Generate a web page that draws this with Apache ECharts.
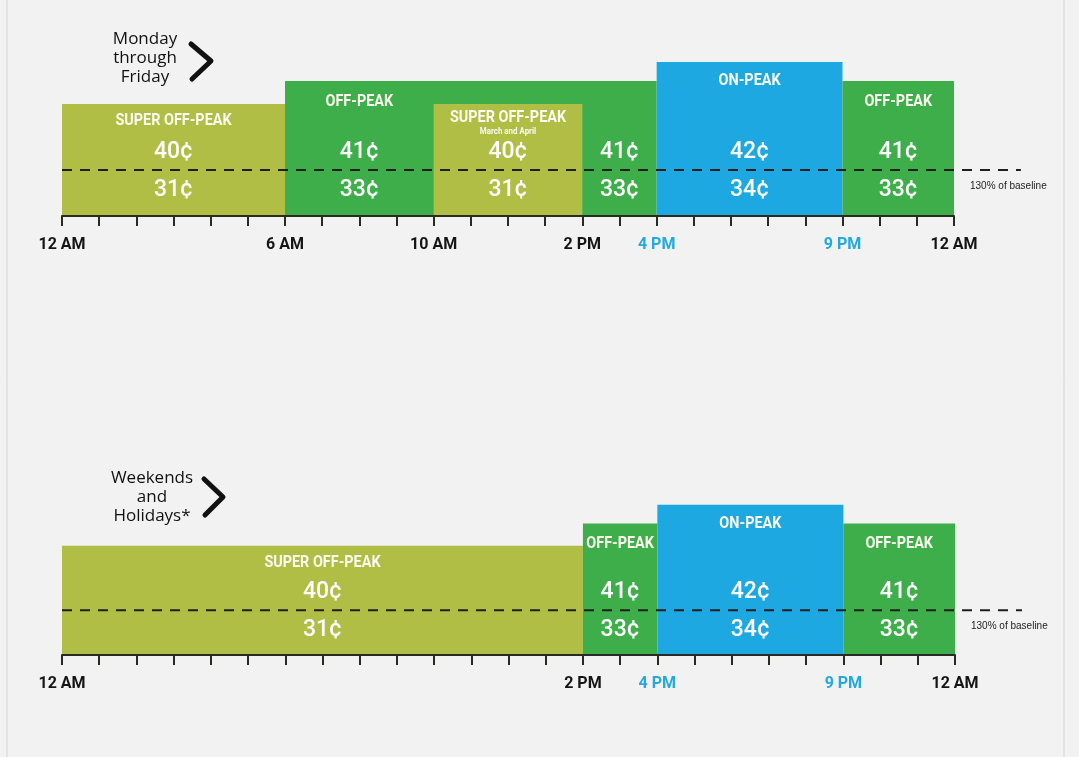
<!DOCTYPE html>
<html><head><meta charset="utf-8">
<script src="https://cdn.jsdelivr.net/npm/echarts@6/dist/echarts.min.js"></script>
<style>html,body{margin:0;padding:0;background:#f2f2f2}#c{width:1079px;height:757px}</style>
</head><body><div id="c"></div><script>
// ---- data ----
const levelNames = ['super', 'off', 'on'];
const levelHeights = [112, 135, 154];   // relative bar heights (arbitrary units)
const baselineLevel = 46;               // "130% of baseline" marker level
const baselineNote = '130% of baseline';

// Monday through Friday
const wdBarStart = [0, 6, 10, 16, 21];
const wdBarEnd = [6, 16, 14, 21, 24];
const wdBarLevel = ['super', 'off', 'super', 'on', 'off'];
const wdLabelHour = [3, 8, 12, 15, 18.5, 22.5];
const wdLabelLevel = ['super', 'off', 'super', 'off', 'on', 'off'];
const wdTitles = ['SUPER OFF-PEAK', 'OFF-PEAK', 'SUPER OFF-PEAK', '', 'ON-PEAK', 'OFF-PEAK'];
const wdNotes = ['', '', 'March and April', '', '', ''];
const wdUpper = ['40¢', '41¢', '40¢', '41¢', '42¢', '41¢'];
const wdLower = ['31¢', '33¢', '31¢', '33¢', '34¢', '33¢'];
const wdTickHours = [0, 6, 10, 14, 16, 21, 24];
const wdTickLabels = ['12 AM', '6 AM', '10 AM', '2 PM', '4 PM', '9 PM', '12 AM'];

// Weekends and Holidays
const weBarStart = [0, 14, 16, 21];
const weBarEnd = [14, 16, 21, 24];
const weBarLevel = ['super', 'off', 'on', 'off'];
const weLabelHour = [7, 15, 18.5, 22.5];
const weLabelLevel = ['super', 'off', 'on', 'off'];
const weTitles = ['SUPER OFF-PEAK', 'OFF-PEAK', 'ON-PEAK', 'OFF-PEAK'];
const weNotes = ['', '', '', ''];
const weUpper = ['40¢', '41¢', '42¢', '41¢'];
const weLower = ['31¢', '33¢', '34¢', '33¢'];
const weTickHours = [0, 14, 16, 21, 24];
const weTickLabels = ['12 AM', '2 PM', '4 PM', '9 PM', '12 AM'];

const peakHours = [16, 21];
const panelTitles = ['Monday\nthrough\nFriday', 'Weekends\nand\nHolidays*'];

// ---- styles ----
const levelColors = ['#b0be46', '#3eae4a', '#1ea8e2'];
const titleOffset = [17, 21, 19];
const boldFont = 'Roboto,sans-serif';
const BLUE = '#22a9e0';

function lvl(name) { return levelNames.indexOf(name); }

function xAxisFor(gi, hours, labels) {
  return {
    type: 'value', gridIndex: gi, min: 0, max: 24, interval: 1, z: 5,
    axisLine: { show: true, lineStyle: { color: '#2a2a22', width: 2 } },
    axisTick: { show: true, length: 10, lineStyle: { color: '#2a2a22', width: 2 } },
    splitLine: { show: false },
    axisLabel: {
      margin: 21, showMinLabel: true, showMaxLabel: true,
      formatter: function (v) {
        const i = hours.indexOf(v);
        if (i < 0) return '';
        return peakHours.indexOf(v) >= 0 ? '{p|' + labels[i] + '}' : '{n|' + labels[i] + '}';
      },
      rich: {
        n: { color: '#151515', fontFamily: boldFont, fontWeight: 'bold', fontSize: 16 },
        p: { color: BLUE, fontFamily: boldFont, fontWeight: 'bold', fontSize: 16 }
      }
    }
  };
}

function yAxisFor(gi) {
  return { type: 'value', gridIndex: gi, min: 0, max: 160, show: false };
}

function barSeries(gi, starts, ends, levels) {
  return {
    type: 'custom', xAxisIndex: gi, yAxisIndex: gi, clip: false, silent: true,
    data: starts.map((s, i) => [s, ends[i], levelHeights[lvl(levels[i])], lvl(levels[i])]),
    encode: { x: [0, 1], y: 2 },
    renderItem: function (p, api) {
      const a = api.coord([api.value(0), 0]);
      const b = api.coord([api.value(1), api.value(2)]);
      return { type: 'rect', shape: { x: a[0], y: b[1], width: b[0] - a[0], height: a[1] - b[1] },
               style: { fill: levelColors[api.value(3)] } };
    }
  };
}

function baselineSeries(gi) {
  return {
    type: 'custom', xAxisIndex: gi, yAxisIndex: gi, clip: false, silent: true, z: 3,
    data: [[0, 25.8, baselineLevel]],
    encode: { x: [0, 1], y: 2 },
    renderItem: function (p, api) {
      const a = api.coord([api.value(0), api.value(2)]);
      const b = api.coord([api.value(1), api.value(2)]);
      const t = api.coord([24.43, api.value(2)]);
      return { type: 'group', children: [
        { type: 'line', shape: { x1: a[0], y1: a[1], x2: b[0], y2: b[1] },
          style: { stroke: '#1e1e1e', lineWidth: 2, lineDash: [10, 8] } },
        { type: 'text', x: t[0], y: t[1] + 16,
          style: { text: baselineNote, fill: '#222', font: '10px "Liberation Sans",Arial,sans-serif',
                   align: 'left', verticalAlign: 'middle' } }
      ] };
    }
  };
}

function labelSeries(gi, hours, levels, titles, notes, upper, lower) {
  return {
    type: 'custom', xAxisIndex: gi, yAxisIndex: gi, clip: false, silent: true, z: 4,
    data: hours.map((h, i) => [h, levelHeights[lvl(levels[i])], lvl(levels[i]), i]),
    encode: { x: 0, y: 1 },
    renderItem: function (p, api) {
      const i = api.value(3);
      const top = api.coord([api.value(0), api.value(1)]);
      const base = api.coord([api.value(0), baselineLevel]);
      const x = top[0];
      const ch = [];
      if (titles[i]) {
        ch.push({ type: 'text', x: x, y: top[1] + titleOffset[api.value(2)] - (notes[i] ? 3 : 0), scaleX: 0.9,
          style: { text: titles[i], fill: '#fbfbef', font: 'bold 16px ' + boldFont, align: 'center', verticalAlign: 'middle' } });
      }
      if (notes[i]) {
        ch.push({ type: 'text', x: x, y: top[1] + 28, scaleX: 0.88,
          style: { text: notes[i], fill: '#fbfbef', font: 'bold 9px ' + boldFont, align: 'center', verticalAlign: 'middle' } });
      }
      ch.push({ type: 'text', x: x, y: base[1] - 18,
        style: { text: upper[i], fill: '#ffffff', font: '500 23px Roboto,sans-serif', align: 'center', verticalAlign: 'middle' } });
      ch.push({ type: 'text', x: x, y: base[1] + 20,
        style: { text: lower[i], fill: '#ffffff', font: '500 23px Roboto,sans-serif', align: 'center', verticalAlign: 'middle' } });
      return { type: 'group', children: ch };
    }
  };
}

function chevron(pts) {
  return { type: 'polyline', shape: { points: pts },
           style: { stroke: '#111', lineWidth: 5, fill: null, lineCap: 'round', lineJoin: 'round' } };
}

const chart = echarts.init(document.getElementById('c'), null, { renderer: 'canvas' });
chart.setOption({
  backgroundColor: '#f2f2f2',
  animation: false,
  grid: [
    { left: 62, width: 892, top: 56, height: 160 },
    { left: 62, width: 893, top: 499, height: 156 }
  ],
  xAxis: [xAxisFor(0, wdTickHours, wdTickLabels), xAxisFor(1, weTickHours, weTickLabels)],
  yAxis: [yAxisFor(0), yAxisFor(1)],
  graphic: [
    { type: 'line', shape: { x1: 7, y1: 0, x2: 7, y2: 757 }, style: { stroke: '#d4d4d4', lineWidth: 1 } },
    { type: 'line', shape: { x1: 1064, y1: 0, x2: 1064, y2: 757 }, style: { stroke: '#d4d4d4', lineWidth: 1 } },
    { type: 'text', x: 145, y: 58, style: { text: panelTitles[0], fill: '#111', font: '500 17px "Open Sans",sans-serif',
      lineHeight: 19, align: 'center', verticalAlign: 'middle' } },
    chevron([[191, 44], [211, 61], [192, 79]]),
    { type: 'text', x: 152, y: 497, style: { text: panelTitles[1], fill: '#111', font: '500 17px "Open Sans",sans-serif',
      lineHeight: 19, align: 'center', verticalAlign: 'middle' } },
    chevron([[204, 479], [223, 497], [205, 515]])
  ],
  series: [
    barSeries(0, wdBarStart, wdBarEnd, wdBarLevel),
    baselineSeries(0),
    labelSeries(0, wdLabelHour, wdLabelLevel, wdTitles, wdNotes, wdUpper, wdLower),
    barSeries(1, weBarStart, weBarEnd, weBarLevel),
    baselineSeries(1),
    labelSeries(1, weLabelHour, weLabelLevel, weTitles, weNotes, weUpper, weLower)
  ]
});
</script></body></html>
